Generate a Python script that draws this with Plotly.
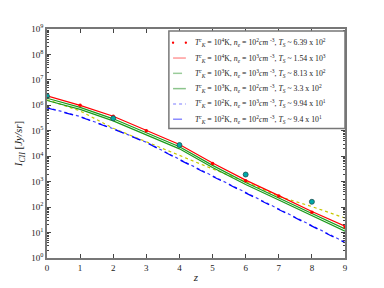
import plotly.graph_objects as go

z = [0, 1, 2, 3, 4, 5, 6, 7, 8, 9]

# log10 of intensity
red_dots_log = [6.36, 6.00, 5.57, 5.00, 4.42, 3.71, 3.04, 2.44, 1.80, 1.22]
red_line_log = [6.37, 6.00, 5.57, 5.02, 4.46, 3.73, 3.06, 2.45, 1.83, 1.25]
green_dash_log = [6.28, 5.92, 5.47, 4.93, 4.37, 3.64, 2.97, 2.36, 1.74, 1.14]
green_line_log = [6.19, 5.84, 5.39, 4.85, 4.29, 3.56, 2.89, 2.28, 1.66, 1.05]
blue_dot_log = [5.92, 5.56, 5.08, 4.55, 3.88, 3.23, 2.58, 1.93, 1.27, 0.62]
blue_dash_log = [5.90, 5.55, 5.07, 4.54, 3.86, 3.21, 2.56, 1.91, 1.25, 0.60]
yellow_log = [6.22, 5.78, 5.10, 4.56, 4.04, 3.50, 3.00, 2.42, 2.02, 1.57]
cyan_z = [0, 2, 4, 6, 8]
cyan_log = [6.36, 5.49, 4.44, 3.28, 2.21]

T_exp = [4, 4, 3, 3, 2, 2]
n_exp = [2, 3, 3, 2, 3, 2]
TS_text = ["6.39 x 10<sup>2</sup>", "1.54 x 10<sup>3</sup>", "8.13 x 10<sup>2</sup>",
           "3.3 x 10<sup>2</sup>", "9.94 x 10<sup>1</sup>", "9.4 x 10<sup>1</sup>"]
labels = [
    "<i>T</i><sup><i>c</i></sup><sub><i>K</i></sub> = 10<sup>%d</sup>K, <i>n<sub>e</sub></i> = 10<sup>%d</sup><i>cm</i> <sup>-3</sup>, <i>T<sub>S</sub></i> ~ %s"
    % (t, n, s) for t, n, s in zip(T_exp, n_exp, TS_text)
]

ytick_exp = list(range(0, 10))
xticks = list(range(0, 10))

def p(v):
    return [10 ** a for a in v]

fig = go.Figure()

fig.add_trace(go.Scatter(x=z, y=p(yellow_log), mode="lines",
                         line=dict(color="#c8c800", width=1.2, dash="dot"), showlegend=False))
fig.add_trace(go.Scatter(x=z, y=p(blue_dot_log), mode="lines",
                         line=dict(color="#4040ff", width=1.2, dash="dot"), showlegend=False))
fig.add_trace(go.Scatter(x=z, y=p(blue_dash_log), mode="lines",
                         line=dict(color="#0000ff", width=1.2, dash="dash"), showlegend=False))
fig.add_trace(go.Scatter(x=z, y=p(green_line_log), mode="lines",
                         line=dict(color="#1a9a1a", width=1.2), showlegend=False))
fig.add_trace(go.Scatter(x=z, y=p(green_dash_log), mode="lines",
                         line=dict(color="#1a9a1a", width=1.2), showlegend=False))
fig.add_trace(go.Scatter(x=z, y=p(red_line_log), mode="lines",
                         line=dict(color="#ff0000", width=1.2), showlegend=False))
fig.add_trace(go.Scatter(x=z, y=p(red_dots_log), mode="markers",
                         marker=dict(color="#ff0000", size=3.5), showlegend=False))
fig.add_trace(go.Scatter(x=cyan_z, y=p(cyan_log), mode="markers",
                         marker=dict(color="#00a8a8", size=5, line=dict(color="#205050", width=0.8)),
                         showlegend=False))

# ---- hand-built legend (compact row spacing like the reference) ----
leg_colors = ["#ff0000", "#ff9a9a", "#9acc9a", "#8cc48c", "#a8a8ff", "#8c8cff"]
leg_dash = [None, "solid", "dash", "solid", "dot", "dash"]
box = dict(x0=0.409, x1=1.0, y0=0.566, y1=0.991)
row_top, row_step = 0.940, 0.0668
sym_x0, sym_x1, txt_x = 0.423, 0.466, 0.49

shapes = [dict(type="rect", xref="paper", yref="paper", layer="above",
               fillcolor="white", line=dict(color="#777", width=1.5), **box)]
annotations = []
for i, (lab, col, dsh) in enumerate(zip(labels, leg_colors, leg_dash)):
    yy = row_top - i * row_step
    if dsh is None:
        for xc in (sym_x0, sym_x1):
            shapes.append(dict(type="circle", xref="paper", yref="paper", layer="above",
                               x0=xc - 0.004, x1=xc + 0.004, y0=yy - 0.005, y1=yy + 0.005,
                               fillcolor=col, line=dict(width=0)))
    else:
        shapes.append(dict(type="line", xref="paper", yref="paper", layer="above",
                           x0=sym_x0, x1=sym_x1, y0=yy, y1=yy,
                           line=dict(color=col, width=1.5, dash=dsh)))
    annotations.append(dict(text=lab, xref="paper", yref="paper", x=txt_x, y=yy,
                            xanchor="left", yanchor="middle", showarrow=False,
                            font=dict(size=7.8, family="Liberation Serif", color="#222")))

fig.update_layout(
    width=376, height=280,
    margin=dict(l=39, r=39, t=21, b=30),
    paper_bgcolor="white", plot_bgcolor="white",
    font=dict(family="Liberation Serif", size=9, color="#222"),
    showlegend=False,
    shapes=shapes, annotations=annotations,
    xaxis=dict(range=[0, 9], tickvals=xticks, ticks="inside", ticklen=4,
               showline=True, linecolor="#777", linewidth=1.5, mirror="ticks",
               showgrid=False, zeroline=False, automargin=False,
               title=dict(text="<i>z</i>", standoff=2, font=dict(size=11))),
    yaxis=dict(type="log", range=[0, 9],
               tickvals=[10 ** e for e in ytick_exp],
               ticktext=["10<sup>%d</sup>" % e for e in ytick_exp],
               ticks="inside", ticklen=4,
               minor=dict(ticks="inside", ticklen=2, dtick="D1", showgrid=False),
               showline=True, linecolor="#777", linewidth=1.5, mirror="ticks",
               showgrid=False, zeroline=False, automargin=False,
               title=dict(text="<i>I<sub>CII</sub></i> [<i>Jy/sr</i>]", standoff=6, font=dict(size=11))),
)

fig.write_html("out.html")
